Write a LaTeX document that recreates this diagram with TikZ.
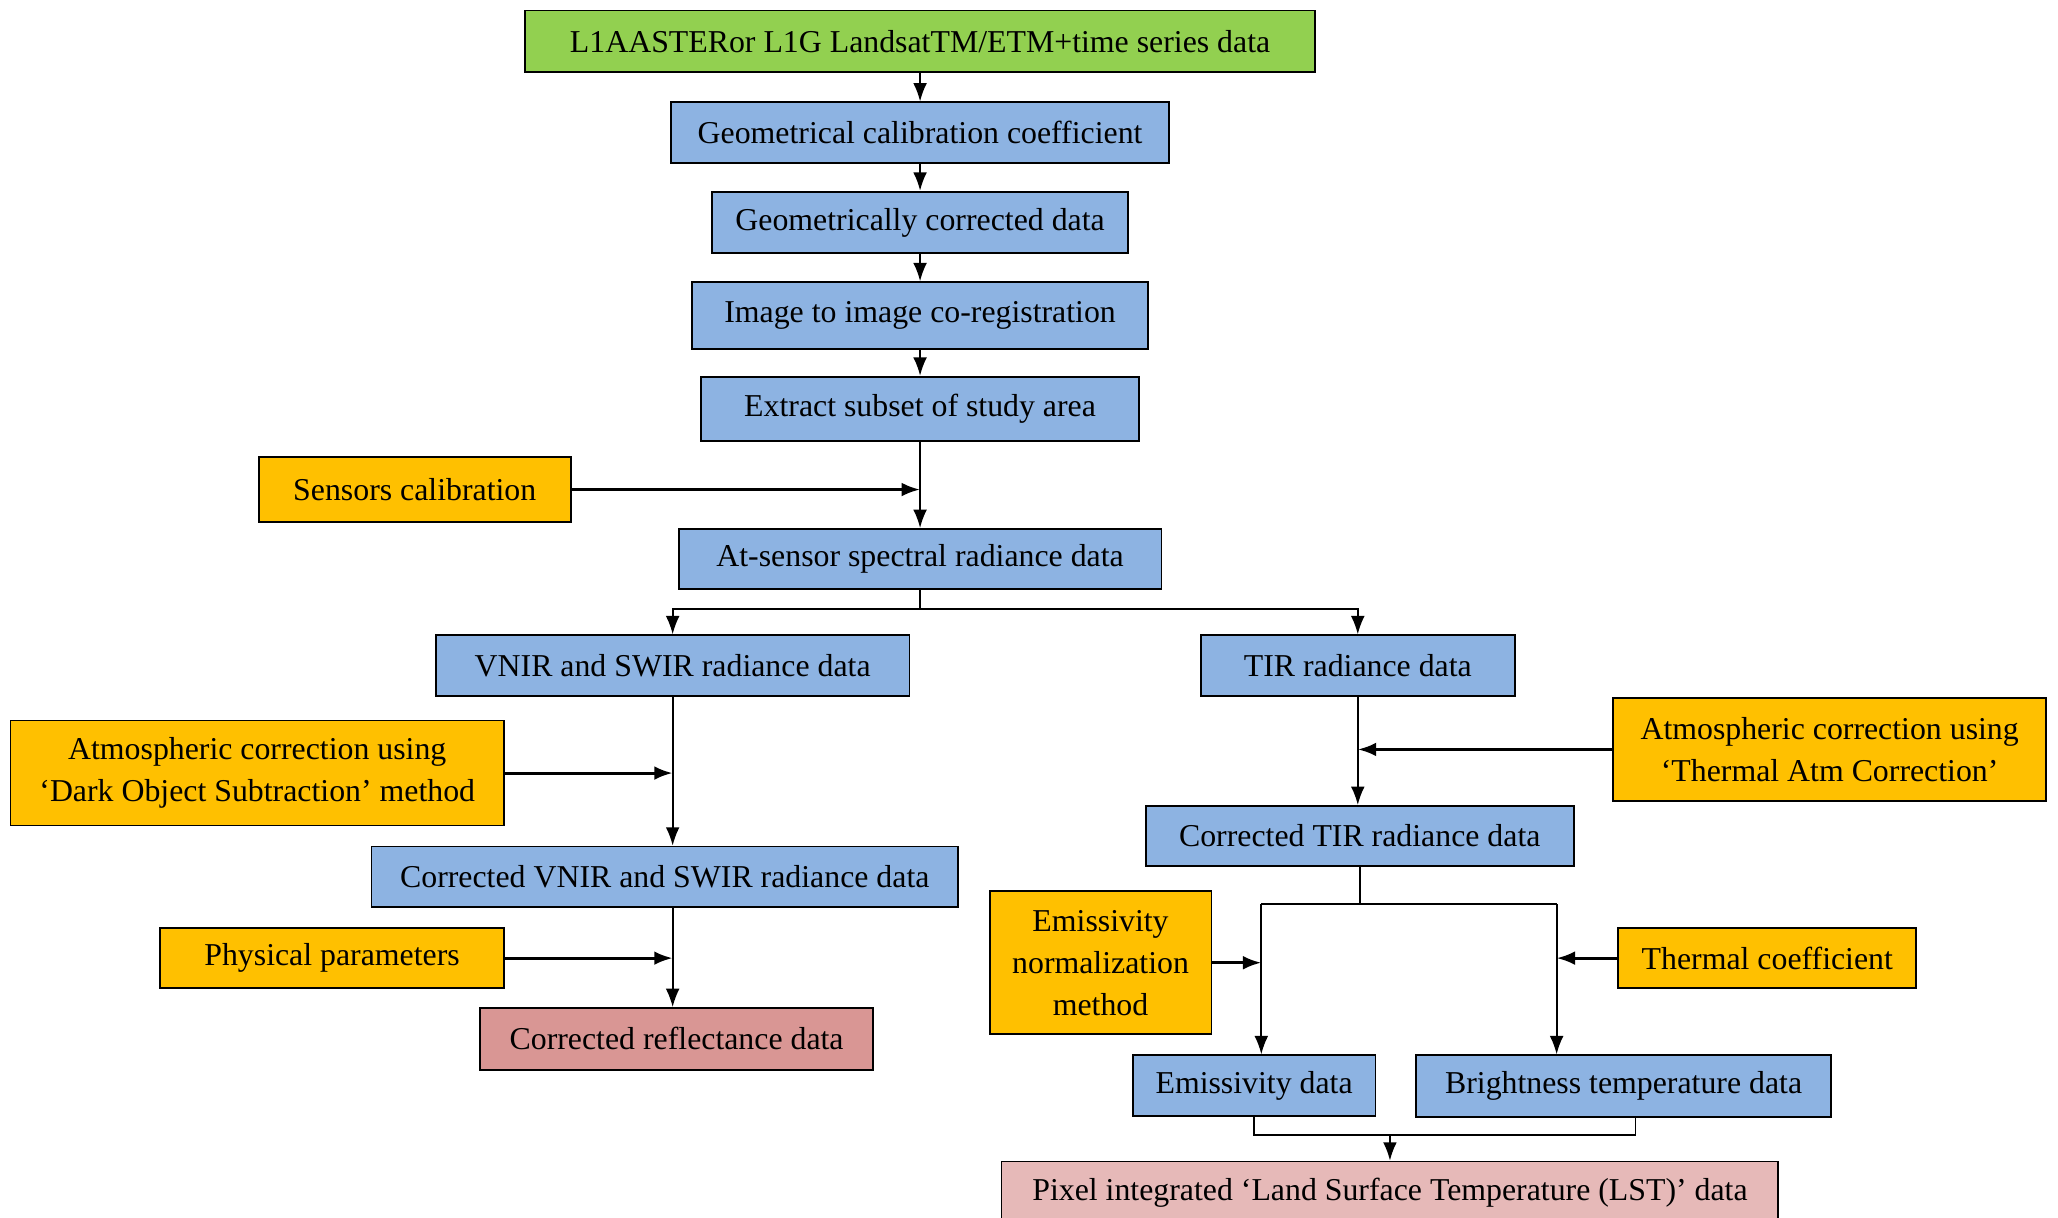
\documentclass[tikz,border=0pt]{standalone}
\usepackage{fontspec}
\setmainfont{Liberation Serif}
\usepackage{tikz}
\usetikzlibrary{arrows.meta,positioning}
\definecolor{c_green}{HTML}{92D050}
\definecolor{c_blue}{HTML}{8DB3E2}
\definecolor{c_orange}{HTML}{FFC000}
\definecolor{c_refl}{HTML}{D99694}
\definecolor{c_lst}{HTML}{E6B9B8}
\begin{document}
\begin{tikzpicture}[x=0.02cm,y=-0.02cm,>=Latex,
  box/.style={draw=black,line width=0.8pt,align=center,inner sep=2pt,font=\fontsize{13.8}{18.2}\selectfont},
  bluebox/.style={box,fill=c_blue,minimum height=0.92cm},
  inbox/.style={box,fill=c_orange,minimum height=0.92cm},
  arr/.style={-{Latex[length=2.8mm,width=2.1mm]},line width=0.75pt},
  sidearr/.style={-{Latex[length=2.8mm,width=2.1mm]},line width=1.3pt},
  link/.style={line width=0.75pt}]
\useasboundingbox (0,0) rectangle (1568,928);
% main chain
\node[box,fill=c_green,minimum width=12.04cm,minimum height=0.94cm] (n_src) at (701,31.5) {L1AASTERor L1G LandsatTM/ETM+time series data};
\node[bluebox,minimum width=7.6cm] (n_geocal) at (701,101) {Geometrical calibration coefficient};
\node[bluebox,minimum width=6.34cm,minimum height=0.94cm] (n_geocor) at (701,169.5) {Geometrically corrected data};
\node[bluebox,minimum width=6.94cm,minimum height=1.02cm] (n_coreg) at (701,240.5) {Image to image co-registration};
\node[bluebox,minimum width=6.68cm,minimum height=0.98cm] (n_subset) at (701,311.5) {Extract subset of study area};
\node[inbox,minimum width=4.76cm,minimum height=0.98cm] (n_senscal) at (316,373) {Sensors calibration};
\node[bluebox,minimum width=7.36cm] (n_atsensor) at (701,426) {At-sensor spectral radiance data};
% reflective branch
\node[bluebox,minimum width=7.22cm] (n_vnir) at (512.5,507) {VNIR and SWIR radiance data};
\node[inbox,minimum width=7.52cm,minimum height=1.6cm] (n_dos) at (196,589) {Atmospheric correction using\\‘Dark Object Subtraction’ method};
\node[bluebox,minimum width=8.94cm] (n_corvnir) at (506.5,668) {Corrected VNIR and SWIR radiance data};
\node[inbox,minimum width=5.24cm] (n_physpar) at (253,730) {Physical parameters};
\node[box,fill=c_refl,minimum width=5.98cm,minimum height=0.94cm] (n_refl) at (515.5,791.5) {Corrected reflectance data};
% thermal branch
\node[bluebox,minimum width=4.78cm] (n_tir) at (1034.5,507) {TIR radiance data};
\node[inbox,minimum width=6.6cm,minimum height=1.58cm] (n_thermatm) at (1394,571) {Atmospheric correction using\\‘Thermal Atm Correction’};
\node[bluebox,minimum width=6.52cm] (n_cortir) at (1036,637) {Corrected TIR radiance data};
\node[inbox,minimum width=3.38cm,minimum height=2.18cm] (n_emisnorm) at (838.5,733.5) {Emissivity\\normalization\\method};
\node[inbox,minimum width=4.54cm] (n_thermcoef) at (1346.5,730) {Thermal coefficient};
\node[bluebox,minimum width=3.7cm] (n_emis) at (955.5,827) {Emissivity data};
\node[bluebox,minimum width=6.32cm,minimum height=0.94cm] (n_bt) at (1237,827.5) {Brightness temperature data};
\node[box,fill=c_lst,minimum width=11.84cm,minimum height=0.96cm] (n_lst) at (1059,909) {Pixel integrated ‘Land Surface Temperature (LST)’ data};
% junction points
\coordinate (j_top) at (701,464);
\coordinate (j_l) at (961,689);
\coordinate (j_r) at (1186,689);
\coordinate (j_bl) at (955.5,865);
\coordinate (j_br) at (1246,865);
% connectors
\draw[arr] (n_src) -- (n_geocal);
\draw[arr] (n_geocal) -- (n_geocor);
\draw[arr] (n_geocor) -- (n_coreg);
\draw[arr] (n_coreg) -- (n_subset);
\draw[arr] (n_subset) -- (n_atsensor);
\draw[sidearr] (n_senscal) -- (n_senscal -| n_subset);
\draw[link] (n_atsensor) -- (j_top);
\draw[arr] (j_top) -| (n_vnir);
\draw[arr] (j_top) -| (n_tir);
\draw[arr] (n_vnir) -- (n_vnir |- n_corvnir.north);
\draw[sidearr] (n_dos) -- (n_dos -| n_vnir);
\draw[arr] (n_corvnir.south -| n_vnir) -- (n_vnir |- n_refl.north);
\draw[sidearr] (n_physpar) -- (n_physpar -| n_vnir);
\draw[arr] (n_tir) -- (n_tir |- n_cortir.north);
\draw[sidearr] (n_thermatm) -- (n_thermatm -| n_tir);
\draw[link] (n_cortir) -- (n_cortir |- j_l);
\draw[link] (j_l) -- (j_r);
\draw[arr] (j_l) -- (j_l |- n_emis.north);
\draw[arr] (j_r) -- (j_r |- n_bt.north);
\draw[sidearr] (n_emisnorm) -- (n_emisnorm -| j_l);
\draw[sidearr] (n_thermcoef) -- (n_thermcoef -| j_r);
\draw[link] (n_emis) -- (j_bl) -- (j_br) -- (j_br |- n_bt.south);
\draw[arr] (j_bl -| n_lst) -- (n_lst);
\end{tikzpicture}
\end{document}
